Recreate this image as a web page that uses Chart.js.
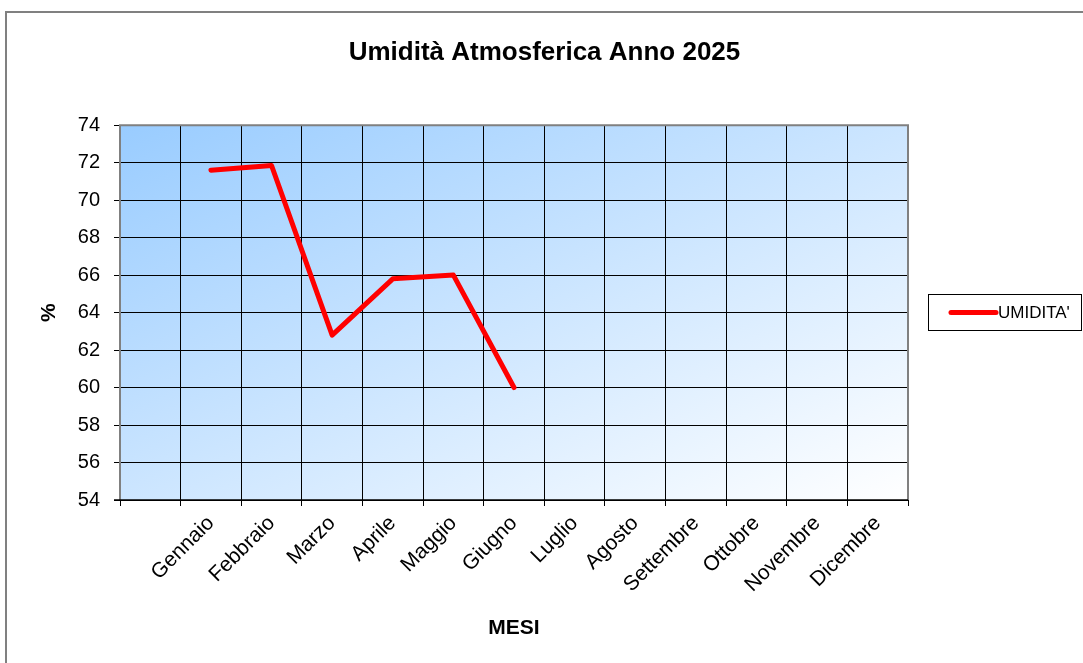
<!DOCTYPE html>
<html>
<head>
<meta charset="utf-8">
<script src="https://cdn.jsdelivr.net/npm/chart.js@4"></script>
<style>
  html, body { margin: 0; padding: 0; background: #fff; }
  #wrap { width: 1083px; height: 663px; }
</style>
</head>
<body>
<div id="wrap"><canvas id="myChart" width="1083" height="663"></canvas></div>
<script>
// Data
const mesi = ['', 'Gennaio', 'Febbraio', 'Marzo', 'Aprile', 'Maggio', 'Giugno',
    'Luglio', 'Agosto', 'Settembre', 'Ottobre', 'Novembre', 'Dicembre'];
const umidita = [null, 71.6, 71.85, 62.8, 65.8, 66.0, 60.0, null, null, null, null, null, null];
const yTicks = { min: 54, max: 74, step: 2 };
const serieLabel = "UMIDITA'";

const FONT = 'Arial, "Liberation Sans", sans-serif';

// Background gradient, plot frame, outer border and legend box
const decorPlugin = {
    id: 'decor',
    beforeDraw(chart) {
        const { ctx, chartArea: a } = chart;
        ctx.save();
        // gradient in normalised plot space (diagonal like Excel)
        ctx.translate(a.left, a.top);
        ctx.scale(a.right - a.left, a.bottom - a.top);
        const g = ctx.createLinearGradient(0, 0, 1, 1);
        g.addColorStop(0, '#99CCFF');
        g.addColorStop(1, '#FFFFFF');
        ctx.fillStyle = g;
        ctx.fillRect(0, 0, 1, 1);
        ctx.restore();
    },
    afterDraw(chart) {
        const { ctx, chartArea: a } = chart;
        ctx.save();
        // outer chart border (only top/left visible)
        ctx.strokeStyle = '#808080';
        ctx.lineWidth = 2;
        ctx.beginPath();
        ctx.moveTo(6, 663);
        ctx.lineTo(6, 12);
        ctx.lineTo(1083, 12);
        ctx.stroke();
        // plot frame: gray top/left/right
        ctx.beginPath();
        ctx.moveTo(a.left, a.bottom);
        ctx.lineTo(a.left, a.top);
        ctx.lineTo(a.right, a.top);
        ctx.lineTo(a.right, a.bottom);
        ctx.stroke();
        // black x axis line
        ctx.strokeStyle = '#000';
        ctx.lineWidth = 1.5;
        ctx.beginPath();
        ctx.moveTo(a.left - 6, a.bottom);
        ctx.lineTo(a.right, a.bottom);
        ctx.stroke();
        // legend
        const ds = chart.data.datasets[0];
        ctx.strokeStyle = '#000';
        ctx.lineWidth = 1;
        ctx.strokeRect(928.5, 294.5, 153, 36);
        ctx.strokeStyle = ds.borderColor;
        ctx.lineWidth = 5;
        ctx.lineCap = 'round';
        ctx.beginPath();
        ctx.moveTo(951, 312.5);
        ctx.lineTo(996, 312.5);
        ctx.stroke();
        ctx.fillStyle = '#000';
        ctx.font = '17px ' + FONT;
        ctx.textBaseline = 'middle';
        ctx.fillText(ds.label, 998, 313);
        ctx.restore();
    }
};

const ctx = document.getElementById('myChart').getContext('2d');
new Chart(ctx, {
    type: 'line',
    data: {
        labels: mesi,
        datasets: [{
            label: serieLabel,
            data: umidita,
            borderColor: '#FF0000',
            backgroundColor: '#FF0000',
            borderWidth: 5,
            borderCapStyle: 'round',
            borderJoinStyle: 'round',
            pointRadius: 0,
            pointHoverRadius: 0,
            tension: 0,
            spanGaps: false,
            yAxisID: 'y'
        }]
    },
    options: {
        responsive: false,
        animation: false,
        layout: {
            padding: { left: 6, right: 0, top: 0, bottom: 0 }
        },
        scales: {
            x: {
                type: 'category',
                offset: true,
                afterFit(scale) { scale.height = 163; },
                grid: {
                    offset: true,
                    color: '#000',
                    lineWidth: 1,
                    drawTicks: true,
                    tickLength: 6,
                    tickColor: '#000'
                },
                border: { display: false },
                ticks: {
                    autoSkip: false,
                    minRotation: 45,
                    maxRotation: 45,
                    padding: 5,
                    color: '#000',
                    font: { family: FONT, size: 21 }
                },
                title: {
                    display: true,
                    text: 'MESI',
                    color: '#000',
                    font: { family: FONT, size: 21, weight: 'bold' },
                    padding: { top: 0, bottom: 22 }
                }
            },
            y: {
                min: yTicks.min,
                max: yTicks.max,
                afterFit(scale) { scale.width = 114; },
                grid: {
                    color: '#000',
                    lineWidth: 1,
                    drawTicks: true,
                    tickLength: 6,
                    tickColor: '#000'
                },
                border: { display: false },
                ticks: {
                    stepSize: yTicks.step,
                    padding: 14,
                    color: '#000',
                    font: { family: FONT, size: 20 }
                },
                title: {
                    display: true,
                    text: '%',
                    color: '#000',
                    font: { family: FONT, size: 21, weight: 'bold' },
                    padding: { top: 31, bottom: 0 }
                }
            },
            // empty space on the right for the legend
            spazio: {
                type: 'linear',
                position: 'right',
                afterFit(scale) { scale.width = 175; },
                grid: { display: false, drawTicks: false },
                border: { display: false },
                ticks: { display: false }
            }
        },
        plugins: {
            legend: { display: false },
            tooltip: { enabled: false },
            title: {
                display: true,
                text: 'Umidità Atmosferica Anno 2025',
                color: '#000',
                font: { family: FONT, size: 26, weight: 'bold' },
                padding: { top: 37, bottom: 57 }
            }
        }
    },
    plugins: [decorPlugin]
});
</script>
</body>
</html>
